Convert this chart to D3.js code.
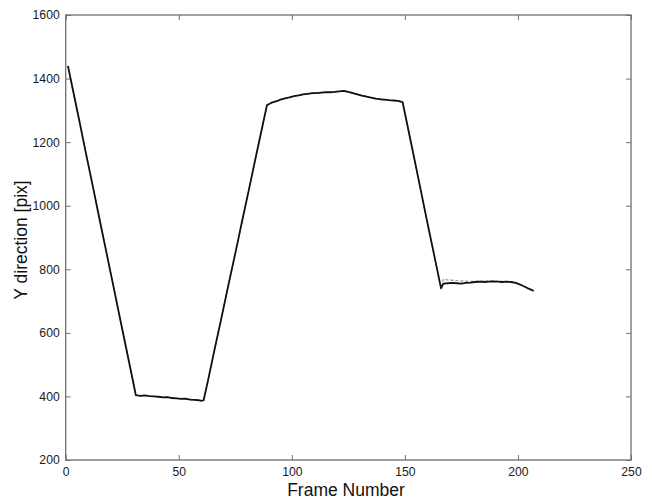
<!DOCTYPE html>
<html><head><meta charset="utf-8">
<script src="https://cdn.jsdelivr.net/npm/d3@7"></script>
<style>
html,body{margin:0;padding:0;background:#fff;}
svg{display:block;}
text{font-family:"Liberation Sans",Arial,sans-serif;}
</style></head>
<body>
<svg id="chart" width="652" height="499"></svg>
<script>
const xTicks = [0, 50, 100, 150, 200, 250];
const yTicks = [200, 400, 600, 800, 1000, 1200, 1400, 1600];
const xLabel = "Frame Number";
const yLabel = "Y direction [pix]";

// measured trajectory (solid black)
const measuredFrames = [1,3,6,9,12,15,18,21,24,27,30,31,33,35,37,39,41,43,45,47,49,51,53,55,57,59,60,61,63,66,69,72,75,78,81,84,87,89,91,93,95,97,99,101,103,105,107,109,111,113,115,117,119,121,123,125,127,129,131,133,135,137,139,141,143,145,147,149,151,154,157,160,163,166,167,169,171,173,175,177,179,181,183,185,187,189,191,193,195,197,199,201,203,205,207];
const measuredY = [1440,1371,1268,1163,1061,956,853,750,646,543,440,404,402,403,401,400,399,397,398,395,394,392,393,390,389,388,386,388,452,553,651,752,850,951,1050,1151,1250,1316,1324,1328,1334,1338,1341,1345,1347,1350,1352,1354,1354,1356,1357,1357,1358,1360,1361,1358,1354,1350,1346,1343,1340,1337,1335,1334,1332,1331,1330,1326,1257,1154,1050,945,843,740,755,756,757,756,755,757,758,760,761,760,761,762,761,760,761,760,757,752,745,738,732];

// estimated trajectory (dashed gray)
const estimatedFrames = [1,5,10,15,20,25,30,31,36,41,46,51,56,61,65,70,75,80,85,89,94,100,106,112,118,123,128,134,140,146,149,153,158,163,166,167,170,173,176,180,184,188,192,196,199,203,207];
const estimatedY = [1438,1302,1130,958,786,612,441,403,402,399,397,393,390,387,520,686,852,1017,1183,1318,1332,1343,1351,1355,1358,1360,1352,1342,1334,1330,1325,1188,1016,844,742,768,766,764,763,762,763,763,762,761,758,746,734];

const W = 652, H = 499;
const m = {left: 65.7, right: 631, top: 15, bottom: 460};
const svg = d3.select("#chart");

const x = d3.scaleLinear().domain([0, 250]).range([m.left, m.right]);
const y = d3.scaleLinear().domain([200, 1600]).range([m.bottom, m.top]);

const axisColor = "#6e6e6e";
const tickLen = 5;
const fmt = d3.format("d");

// frame box
svg.append("rect")
  .attr("x", m.left).attr("y", m.top)
  .attr("width", m.right - m.left).attr("height", m.bottom - m.top)
  .attr("fill", "none").attr("stroke", axisColor).attr("stroke-width", 1.3);

// axes with inward ticks
const xb = svg.append("g").attr("transform", `translate(0,${m.bottom})`)
  .call(d3.axisBottom(x).tickValues(xTicks).tickFormat(fmt).tickSizeInner(-tickLen).tickSizeOuter(0).tickPadding(7));
const xt = svg.append("g").attr("transform", `translate(0,${m.top})`)
  .call(d3.axisTop(x).tickValues(xTicks).tickSizeInner(-tickLen).tickSizeOuter(0).tickFormat(""));
const yl = svg.append("g").attr("transform", `translate(${m.left},0)`)
  .call(d3.axisLeft(y).tickValues(yTicks).tickFormat(fmt).tickSizeInner(-tickLen).tickSizeOuter(0).tickPadding(6));
const yr = svg.append("g").attr("transform", `translate(${m.right},0)`)
  .call(d3.axisRight(y).tickValues(yTicks).tickSizeInner(-tickLen).tickSizeOuter(0).tickFormat(""));

[xb, xt, yl, yr].forEach(g => {
  g.select(".domain").remove();
  g.selectAll(".tick line").attr("stroke", axisColor).attr("stroke-width", 1);
  g.selectAll(".tick text").attr("fill", "#1a1a1a").attr("font-size", 12.2);
});

// lines
const estData = estimatedFrames.map((f, i) => [f, estimatedY[i]]);
const measData = measuredFrames.map((f, i) => [f, measuredY[i]]);
const line = d3.line().x(d => x(d[0])).y(d => y(d[1]));

svg.append("path").datum(estData).attr("d", line)
  .attr("fill", "none").attr("stroke", "#8a8a8a").attr("stroke-width", 1.1)
  .attr("stroke-dasharray", "3,2");
svg.append("path").datum(measData).attr("d", line)
  .attr("fill", "none").attr("stroke", "#111").attr("stroke-width", 1.8)
  .attr("stroke-linejoin", "round");

// labels
svg.append("text").attr("x", 346).attr("y", 496)
  .attr("text-anchor", "middle").attr("font-size", 17.5).attr("fill", "#111").text(xLabel);
svg.append("text").attr("transform", `translate(27,240) rotate(-90)`)
  .attr("text-anchor", "middle").attr("font-size", 17.5).attr("fill", "#111").text(yLabel);
</script>
</body></html>
